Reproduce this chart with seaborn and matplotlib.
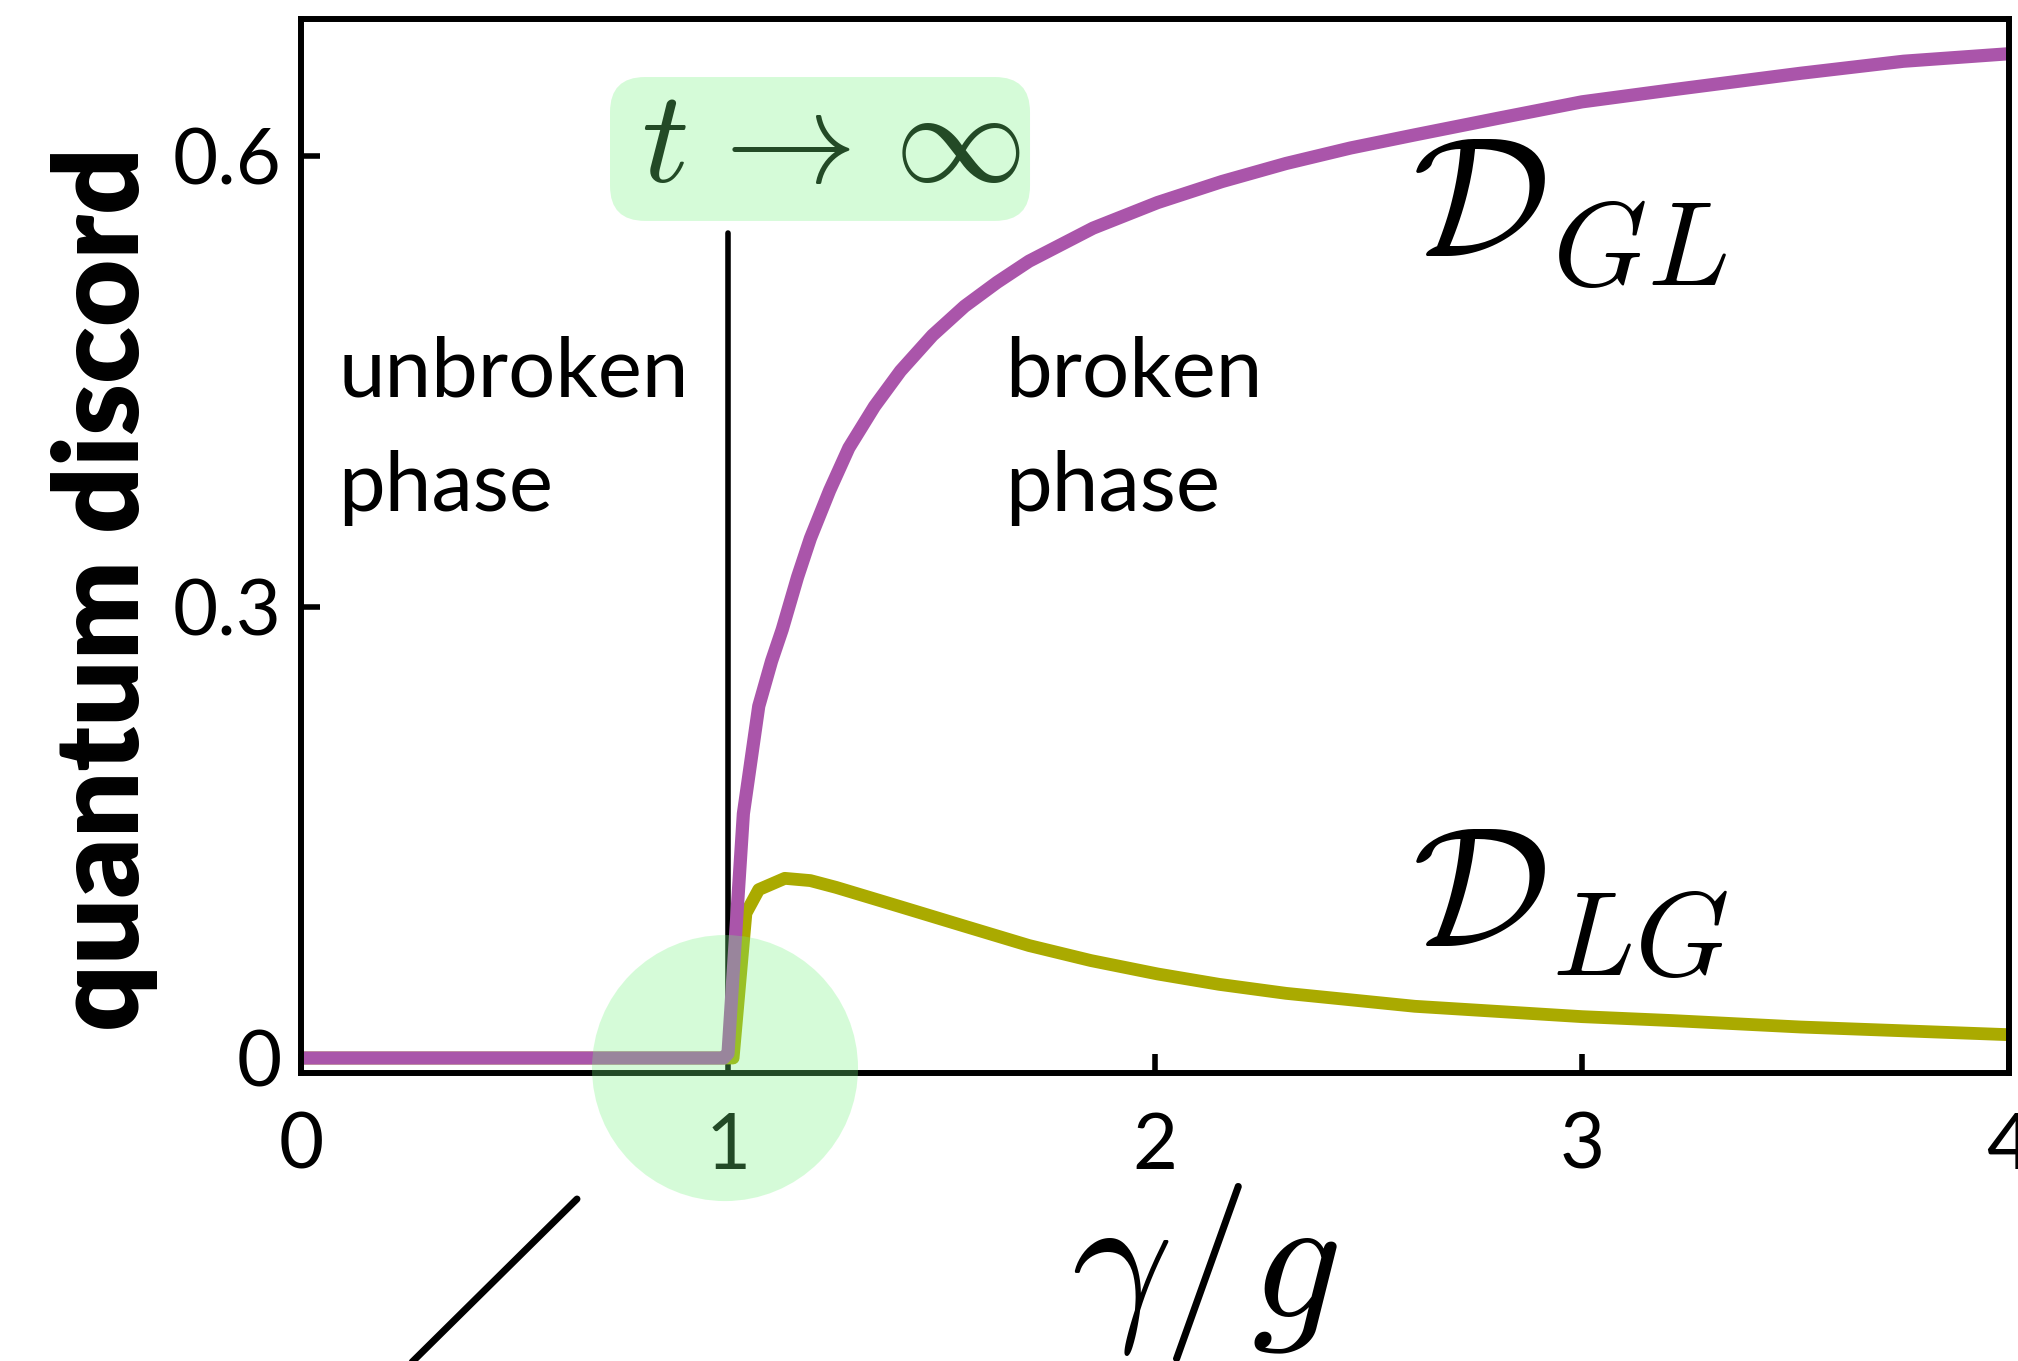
import numpy as np
import pandas as pd
import seaborn as sns
import matplotlib.pyplot as plt
from matplotlib.patches import Ellipse, FancyBboxPatch
from matplotlib.lines import Line2D

# gamma / g
x_gl = [0.0, 0.99, 1.0, 1.036, 1.072, 1.102, 1.127, 1.163, 1.193, 1.238, 1.283, 1.343,
        1.404, 1.479, 1.554, 1.630, 1.705, 1.855, 2.006, 2.157, 2.307, 2.458, 2.608,
        2.804, 3.0, 3.211, 3.512, 3.753, 4.0]
# quantum discord D_GL
y_gl = [0.0, 0.0, 0.003, 0.1625, 0.234, 0.264, 0.285, 0.320, 0.3457, 0.3775, 0.4058, 0.4334,
        0.457, 0.4807, 0.500, 0.5159, 0.530, 0.552, 0.569, 0.583, 0.595, 0.6053, 0.614,
        0.6251, 0.636, 0.644, 0.655, 0.663, 0.668]

x_lg = [0.0, 0.99, 1.0, 1.012, 1.042, 1.072, 1.133, 1.193, 1.253, 1.404, 1.554,
        1.705, 1.85, 2.006, 2.15, 2.307, 2.458, 2.608, 3.0, 3.211, 3.512, 4.0]
# quantum discord D_LG
y_lg = [0.0, 0.0, 0.0, 0.0, 0.0963, 0.112, 0.1195, 0.118, 0.1135, 0.1006, 0.0877,
        0.0748, 0.0648, 0.0559, 0.0490, 0.0430, 0.0387, 0.0344, 0.0275, 0.0249, 0.0206, 0.0155]

x_ticks = [0, 1, 2, 3, 4]
x_ticklabels = ["0", "1", "2", "3", "4"]
y_ticks = [0.0, 0.3, 0.6]
y_ticklabels = ["0", "0.3", "0.6"]

x_critical = 1.0
critical_line_top = 0.549

sns.set_theme(style="white")
plt.rcParams['font.family'] = ['Lato', 'DejaVu Sans']
plt.rcParams['mathtext.fontset'] = 'cm'
plt.rcParams['text.color'] = 'black'
plt.rcParams['axes.labelcolor'] = 'black'

W, H = 2018, 1361
fig = plt.figure(figsize=(W / 100, H / 100), dpi=100)
ax = fig.add_axes([301 / W, 1 - 1073 / H, 1708 / W, 1054 / H])

PURPLE = '#aa55aa'
OLIVE = '#aaaa00'
DARK_GREEN = '#234a26'

# phase boundary
ax.plot([x_critical, x_critical], [0, critical_line_top], color='black', lw=4, zorder=1.8)

df_lg = pd.DataFrame({'x': x_lg, 'y': y_lg})
df_gl = pd.DataFrame({'x': x_gl, 'y': y_gl})
sns.lineplot(data=df_lg, x='x', y='y', ax=ax, color=OLIVE, lw=9.2,
             sort=False, estimator=None, zorder=2)
sns.lineplot(data=df_gl, x='x', y='y', ax=ax, color=PURPLE, lw=9.5,
             sort=False, estimator=None, zorder=2.1)

ax.set_xlim(0, 4)
ax.set_ylim(-0.00998, 0.6911)
ax.set_xticks(x_ticks)
ax.set_xticklabels(x_ticklabels)
ax.set_yticks(y_ticks)
ax.set_yticklabels(y_ticklabels)
ax.tick_params(axis='both', which='major', direction='in', length=14, width=4,
               labelsize=56, color='black', labelcolor='black',
               bottom=True, left=True, top=False, right=False)
ax.tick_params(axis='x', pad=28)
ax.tick_params(axis='y', pad=14)
for sp in ax.spines.values():
    sp.set_linewidth(4.3)
    sp.set_color('black')
    sp.set_visible(True)

ax.set_xlabel(r'$\gamma/g$', fontsize=128, color='black')
ax.xaxis.label.set_va('baseline')
ax.xaxis.set_label_coords((1205 - 301) / 1708, -(1317 - 1073) / 1054)

ax.set_ylabel('quantum discord', fontsize=84, fontweight='heavy', color='black')
ax.yaxis.label.set_va('center')
ax.yaxis.set_label_coords((105 - 301) / 1708, (1073 - 589) / 1054)

# phase labels
ax.text(0.088, 0.4403, 'unbroken', fontsize=60, ha='left', va='baseline', color='black')
ax.text(0.088, 0.3640, 'phase', fontsize=60, ha='left', va='baseline', color='black')
ax.text(1.648, 0.4403, 'broken', fontsize=60, ha='left', va='baseline', color='black')
ax.text(1.648, 0.3640, 'phase', fontsize=60, ha='left', va='baseline', color='black')

# curve labels
ax.text(2.602, 0.5328, r'$\mathcal{D}_{GL}$', fontsize=124, ha='left', va='baseline',
        color='black')
ax.text(2.602, 0.0740, r'$\mathcal{D}_{LG}$', fontsize=124, ha='left', va='baseline',
        color='black')

# long-time limit tag
bx0, bx1 = 0.7237, 1.7073
by0, by1 = 0.5568, 0.6525
rx = 35 / 427
ry = 35 / 451 * 0.3
box = FancyBboxPatch((bx0, by0), bx1 - bx0, by1 - by0,
                     boxstyle=f"round,pad=0,rounding_size={rx}",
                     mutation_aspect=ry / rx,
                     facecolor='#d5fbd8', edgecolor='none', zorder=3, clip_on=False)
ax.add_patch(box)
ax.text(0.796, 0.5827, r'$t\hspace{0.11}\rightarrow\hspace{0.13}\infty$', fontsize=95,
        ha='left', va='baseline', color=DARK_GREEN, zorder=4)

# highlight around the transition point
circ = Ellipse((0.993, -0.0067), 266 / 427, 266 / 451 * 0.3,
               facecolor=(116 / 255, 245 / 255, 126 / 255), alpha=0.3,
               edgecolor='none', zorder=10, clip_on=False)
ax.add_patch(circ)

# connector leading off toward the zoomed view
fig.add_artist(Line2D([577 / W, 400 / W], [1 - 1199 / H, 1 - 1374 / H],
                      color='black', lw=5, transform=fig.transFigure, clip_on=False))

fig.savefig('out.png', dpi=100)
